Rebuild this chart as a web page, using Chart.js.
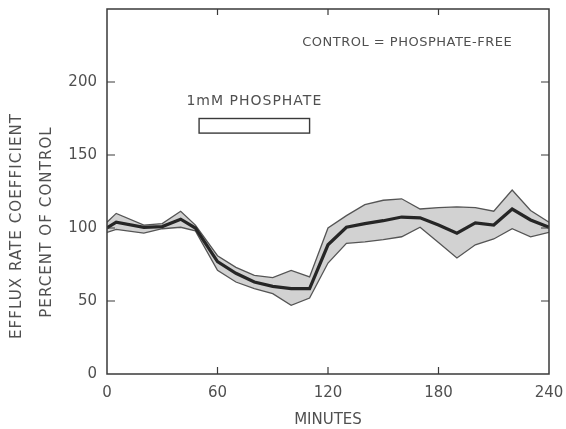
<!DOCTYPE html>
<html><head><meta charset="utf-8">
<script src="https://cdn.jsdelivr.net/npm/chart.js@4.4.1/dist/chart.umd.min.js"></script>
<style>html,body{margin:0;padding:0;background:#fff}#wrap{width:566px;height:429px}</style>
</head><body><div id="wrap"><canvas id="c" width="566" height="429"></canvas></div>
<script>
// ---- data ----
const minutes   = [0, 5, 20, 30, 40, 48, 60, 70, 80, 90, 100, 110, 120, 130, 140, 150, 160, 170, 180, 190, 200, 210, 220, 230, 240];
const upperPct  = [104, 110, 102, 103, 111.5, 102, 81, 73, 67.5, 66, 71, 66.5, 100, 108.5, 116, 119, 120, 113, 114, 114.5, 114, 111.5, 126, 112, 104];
const meanPct   = [100, 104, 100.5, 101, 106, 100, 77, 69, 63, 60, 58.5, 58.5, 88.5, 100.5, 103, 105, 107.5, 107, 102, 96.5, 103.5, 102, 113, 105.5, 100.5];
const lowerPct  = [97, 99, 96.5, 99.5, 100.5, 98, 71, 63, 58.5, 55, 47, 52, 76, 89.5, 90.5, 92, 94, 100.5, 90, 79.5, 88.5, 92.5, 99.5, 94, 97];
const xTicks = [0, 60, 120, 180, 240];
const yTicks = [0, 50, 100, 150, 200];
const innerXTicks = [60, 120, 180];
const innerYTicks = [50, 100, 150, 200];
const phosphatePeriod = [50, 110];   // minutes
const phosphateBarPct = [165, 175];  // vertical extent of the marker bar
const phosphateLabel = '1mM PHOSPHATE';
const controlLabel = 'CONTROL = PHOSPHATE-FREE';
const yTitleLines = ['EFFLUX RATE COEFFICIENT', 'PERCENT OF CONTROL'];
const xTitle = 'MINUTES';

const pts = arr => minutes.map((m, i) => ({x: m, y: arr[i]}));
const INK = '#3a3a3a';
const TXT = '#505050';

const zeroPad = s => { s.paddingLeft = 0; s.paddingRight = 0; s.paddingTop = 0; s.paddingBottom = 0; };

const decor = {
  id: 'decor',
  afterDraw(chart) {
    const {ctx, chartArea: a, scales: {x, y}} = chart;
    ctx.save();
    ctx.strokeStyle = INK;
    ctx.lineWidth = 1.5;
    ctx.strokeRect(a.left, a.top, a.right - a.left, a.bottom - a.top);
    ctx.lineWidth = 1.2;
    ctx.beginPath();
    innerXTicks.forEach(v => {
      const px = x.getPixelForValue(v);
      ctx.moveTo(px, a.bottom); ctx.lineTo(px, a.bottom - 7);
      ctx.moveTo(px, a.top); ctx.lineTo(px, a.top + 6);
    });
    innerYTicks.forEach(v => {
      const py = y.getPixelForValue(v);
      ctx.moveTo(a.left, py); ctx.lineTo(a.left + 8, py);
      ctx.moveTo(a.right, py); ctx.lineTo(a.right - 8, py);
    });
    ctx.stroke();
    const bx0 = x.getPixelForValue(phosphatePeriod[0]);
    const bx1 = x.getPixelForValue(phosphatePeriod[1]);
    const by0 = y.getPixelForValue(phosphateBarPct[1]);
    const by1 = y.getPixelForValue(phosphateBarPct[0]);
    ctx.fillStyle = '#fff';
    ctx.fillRect(bx0, by0, bx1 - bx0, by1 - by0);
    ctx.lineWidth = 1.4;
    ctx.strokeRect(bx0, by0, bx1 - bx0, by1 - by0);
    ctx.fillStyle = TXT;
    ctx.textBaseline = 'middle';
    ctx.textAlign = 'center';
    ctx.font = '14px "DejaVu Sans"';
    ctx.letterSpacing = '1px';
    ctx.fillText(phosphateLabel, (bx0 + bx1) / 2, y.getPixelForValue(187));
    ctx.font = '13px "DejaVu Sans"';
    ctx.letterSpacing = '0.5px';
    ctx.fillText(controlLabel, x.getPixelForValue(163), y.getPixelForValue(227));
    ctx.font = '15px "DejaVu Sans"';
    ctx.letterSpacing = '1.1px';
    [[17, 226], [47, 222]].forEach(([tx, ty], i) => {
      ctx.save();
      ctx.translate(tx, ty);
      ctx.rotate(-Math.PI / 2);
      ctx.fillText(yTitleLines[i], 0, 0);
      ctx.restore();
    });
    ctx.restore();
  }
};

new Chart(document.getElementById('c'), {
  type: 'line',
  data: {
    datasets: [
      {label: 'upper', data: pts(upperPct), borderColor: '#555', borderWidth: 1.3,
       backgroundColor: '#d2d2d2', fill: '+1', pointRadius: 0, tension: 0, order: 2},
      {label: 'lower', data: pts(lowerPct), borderColor: '#555', borderWidth: 1.3,
       fill: false, pointRadius: 0, tension: 0, order: 1},
      {label: 'mean', data: pts(meanPct), borderColor: '#262626', borderWidth: 3.2,
       fill: false, pointRadius: 0, tension: 0, order: 0}
    ]
  },
  options: {
    responsive: false,
    animation: false,
    devicePixelRatio: 1,
    layout: {padding: {top: 9, right: 17, bottom: 0, left: 0}},
    plugins: {legend: {display: false}, tooltip: {enabled: false}, filler: {drawTime: 'beforeDatasetsDraw'}},
    scales: {
      x: {
        type: 'linear', min: 0, max: 240,
        afterBuildTicks: s => { s.ticks = xTicks.map(v => ({value: v})); },
        afterFit: s => { s.height = 55; zeroPad(s); },
        grid: {display: false, drawTicks: false},
        border: {display: false},
        ticks: {padding: 10, color: TXT, font: {family: 'DejaVu Sans', size: 15}, maxRotation: 0},
        title: {display: true, text: xTitle, color: TXT, font: {family: 'DejaVu Sans', size: 15}, padding: {top: 0, bottom: 0}}
      },
      y: {
        type: 'linear', min: 0, max: 250,
        afterBuildTicks: s => { s.ticks = yTicks.map(v => ({value: v})); },
        afterFit: s => { s.width = 107; zeroPad(s); },
        grid: {display: false, drawTicks: false},
        border: {display: false},
        ticks: {padding: 10, color: TXT, font: {family: 'DejaVu Sans', size: 15}}
      }
    }
  },
  plugins: [decor]
});
</script>
</body></html>
